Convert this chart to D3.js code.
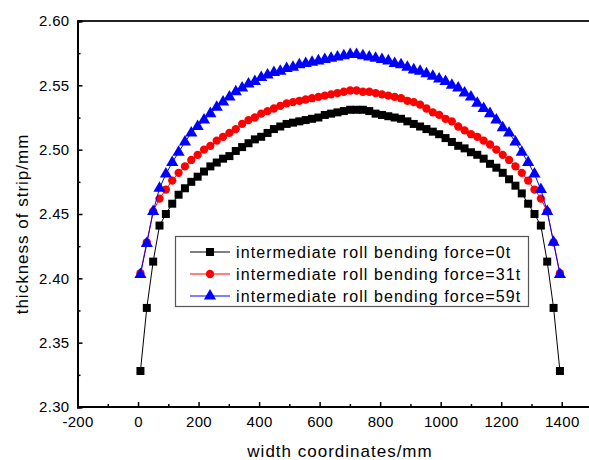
<!DOCTYPE html>
<html>
<head>
<meta charset="utf-8">
<script src="https://cdn.jsdelivr.net/npm/d3@7"></script>
<style>
  body { margin: 0; background: #fff; }
  text { font-family: "Liberation Sans", Arial, sans-serif; }
</style>
</head>
<body>
<div id="chart"></div>
<script>
// width positions (mm)
var widthCoords = [8, 29, 50, 71, 92, 113, 134, 155, 176, 197, 218, 239, 260, 281, 302, 323, 344,
    365, 386, 407, 428, 449, 470, 491, 512, 533, 554, 575, 596, 617, 638, 659, 680, 701, 722, 743,
    764, 785, 806, 827, 848, 869, 890, 911, 932, 953, 974, 995, 1016, 1037, 1058, 1079, 1100, 1121,
    1142, 1163, 1184, 1205, 1226, 1247, 1268, 1289, 1310, 1331, 1352, 1373, 1394];

var force0 = [2.328, 2.377, 2.413, 2.441, 2.450, 2.458, 2.465, 2.470, 2.475, 2.479, 2.483, 2.487,
    2.490, 2.493, 2.495, 2.499, 2.502, 2.505, 2.508, 2.510, 2.513, 2.516, 2.518, 2.520, 2.521, 2.522,
    2.523, 2.524, 2.525, 2.527, 2.528, 2.529, 2.530, 2.531, 2.531, 2.531, 2.530, 2.528, 2.527, 2.526,
    2.525, 2.524, 2.522, 2.520, 2.518, 2.516, 2.514, 2.512, 2.509, 2.506, 2.503, 2.501, 2.498, 2.496,
    2.493, 2.489, 2.486, 2.482, 2.477, 2.472, 2.466, 2.458, 2.450, 2.441, 2.413, 2.377, 2.328];

var force31 = [2.404, 2.428, 2.452, 2.462, 2.469, 2.476, 2.482, 2.487, 2.492, 2.496, 2.500, 2.503,
    2.507, 2.510, 2.513, 2.516, 2.520, 2.523, 2.525, 2.528, 2.530, 2.532, 2.534, 2.536, 2.537, 2.538,
    2.539, 2.540, 2.541, 2.542, 2.543, 2.544, 2.545, 2.546, 2.546, 2.545, 2.545, 2.544, 2.543, 2.542,
    2.541, 2.540, 2.538, 2.537, 2.535, 2.532, 2.529, 2.527, 2.524, 2.522, 2.518, 2.515, 2.512, 2.510,
    2.507, 2.504, 2.500, 2.496, 2.492, 2.487, 2.482, 2.476, 2.469, 2.462, 2.452, 2.428, 2.404];

var force59 = [2.403, 2.427, 2.452, 2.470, 2.481, 2.490, 2.498, 2.506, 2.513, 2.518, 2.523, 2.528,
    2.533, 2.537, 2.541, 2.545, 2.548, 2.551, 2.553, 2.556, 2.558, 2.560, 2.561, 2.563, 2.564, 2.566,
    2.567, 2.568, 2.569, 2.570, 2.571, 2.572, 2.573, 2.574, 2.574, 2.573, 2.572, 2.571, 2.570, 2.569,
    2.567, 2.566, 2.564, 2.562, 2.561, 2.559, 2.557, 2.555, 2.553, 2.550, 2.548, 2.544, 2.541, 2.536,
    2.532, 2.528, 2.523, 2.517, 2.513, 2.506, 2.498, 2.490, 2.481, 2.469, 2.452, 2.428, 2.403];

var seriesNames = ["intermediate roll bending force=0t",
    "intermediate roll bending force=31t",
    "intermediate roll bending force=59t"];
var seriesValues = [force0, force31, force59];
var seriesColors = ["#000000", "#ff0000", "#0000ff"];
var legendLineColors = ["#000000", "#ff8080", "#0000ff"];
var seriesMarkers = [d3.symbolSquare, d3.symbolCircle, d3.symbolTriangle];
var markerSizes = [64, 54, 64];

var xTicks = [-200, 0, 200, 400, 600, 800, 1000, 1200, 1400];
var yTicks = [2.30, 2.35, 2.40, 2.45, 2.50, 2.55, 2.60];

var svgWidth = 589, svgHeight = 460;
var margin = { top: 21, left: 77.5, bottom: 407 };

var svg = d3.select("#chart").append("svg")
    .attr("width", svgWidth)
    .attr("height", svgHeight);

var x = d3.scaleLinear().domain([-200, 1500]).range([margin.left, 592]);
var y = d3.scaleLinear().domain([2.30, 2.60]).range([margin.bottom, margin.top]);

// frame top
svg.append("line")
    .attr("x1", margin.left).attr("x2", svgWidth)
    .attr("y1", margin.top).attr("y2", margin.top)
    .attr("stroke", "#222").attr("stroke-width", 2);

// axes, ticks pointing inward
var xAxis = svg.append("g")
    .attr("transform", "translate(0," + margin.bottom + ")")
    .call(d3.axisBottom(x).tickValues(xTicks).tickSize(-5).tickPadding(9)
        .tickFormat(function(d) { return String(d); }));
var xMinor = svg.append("g")
    .attr("transform", "translate(0," + margin.bottom + ")")
    .call(d3.axisBottom(x).tickValues(d3.range(-100, 1500, 200)).tickSize(-3).tickFormat(""));

var yAxis = svg.append("g")
    .attr("transform", "translate(" + margin.left + ",0)")
    .call(d3.axisLeft(y).tickValues(yTicks).tickSize(-5).tickPadding(8).tickFormat(d3.format(".2f")));
var yMinor = svg.append("g")
    .attr("transform", "translate(" + margin.left + ",0)")
    .call(d3.axisLeft(y).tickValues([2.325, 2.375, 2.425, 2.475, 2.525, 2.575]).tickSize(-3).tickFormat(""));

[xAxis, xMinor, yAxis, yMinor].forEach(function(g) {
    g.select(".domain").attr("stroke", "#000").attr("stroke-width", 2);
    g.selectAll(".tick line").attr("stroke", "#000").attr("stroke-width", 1.5);
    g.selectAll(".tick text")
        .attr("font-size", "15px")
        .attr("letter-spacing", "0.3px")
        .attr("font-family", "Liberation Sans, Arial, sans-serif")
        .attr("fill", "#000");
});
xMinor.select(".domain").attr("d", "M" + margin.left + ",0H" + svgWidth);
xAxis.select(".domain").attr("d", "M" + margin.left + ",0H" + svgWidth);

// axis titles
svg.append("text")
    .attr("x", 340).attr("y", 457)
    .attr("text-anchor", "middle")
    .attr("font-size", "17px")
    .attr("letter-spacing", "1px")
    .text("width coordinates/mm");

svg.append("text")
    .attr("transform", "translate(28,224) rotate(-90)")
    .attr("text-anchor", "middle")
    .attr("font-size", "17px")
    .attr("letter-spacing", "1px")
    .text("thickness of strip/mm");

// series
var line = d3.line()
    .x(function(d, i) { return x(widthCoords[i]); })
    .y(function(d) { return y(d); });

seriesValues.forEach(function(vals, s) {
    var g = svg.append("g");
    g.append("path")
        .attr("d", line(vals))
        .attr("fill", "none")
        .attr("stroke", seriesColors[s])
        .attr("stroke-width", 1);
    g.selectAll("path.mark")
        .data(vals)
        .enter().append("path")
        .attr("class", "mark")
        .attr("d", d3.symbol().type(seriesMarkers[s]).size(markerSizes[s]))
        .attr("transform", function(d, i) {
            return "translate(" + x(widthCoords[i]) + "," + y(d) + ")";
        })
        .attr("fill", seriesColors[s]);
});

// legend
var legend = svg.append("g");
legend.append("rect")
    .attr("x", 175.5).attr("y", 236.5)
    .attr("width", 353).attr("height", 70)
    .attr("fill", "#fff")
    .attr("stroke", "#555").attr("stroke-width", 1.2);

seriesNames.forEach(function(name, s) {
    var ly = 252 + s * 22;
    legend.append("line")
        .attr("x1", 190).attr("x2", 230)
        .attr("y1", ly).attr("y2", ly)
        .attr("stroke", legendLineColors[s])
        .attr("stroke-width", s === 1 ? 2 : 1);
    legend.append("path")
        .attr("d", d3.symbol().type(seriesMarkers[s]).size(markerSizes[s])())
        .attr("transform", "translate(210," + ly + ")")
        .attr("fill", seriesColors[s]);
    legend.append("text")
        .attr("x", 236).attr("y", ly + 5.5)
        .attr("font-size", "16px")
        .attr("letter-spacing", "1.1px")
        .text(name);
});
</script>
</body>
</html>
